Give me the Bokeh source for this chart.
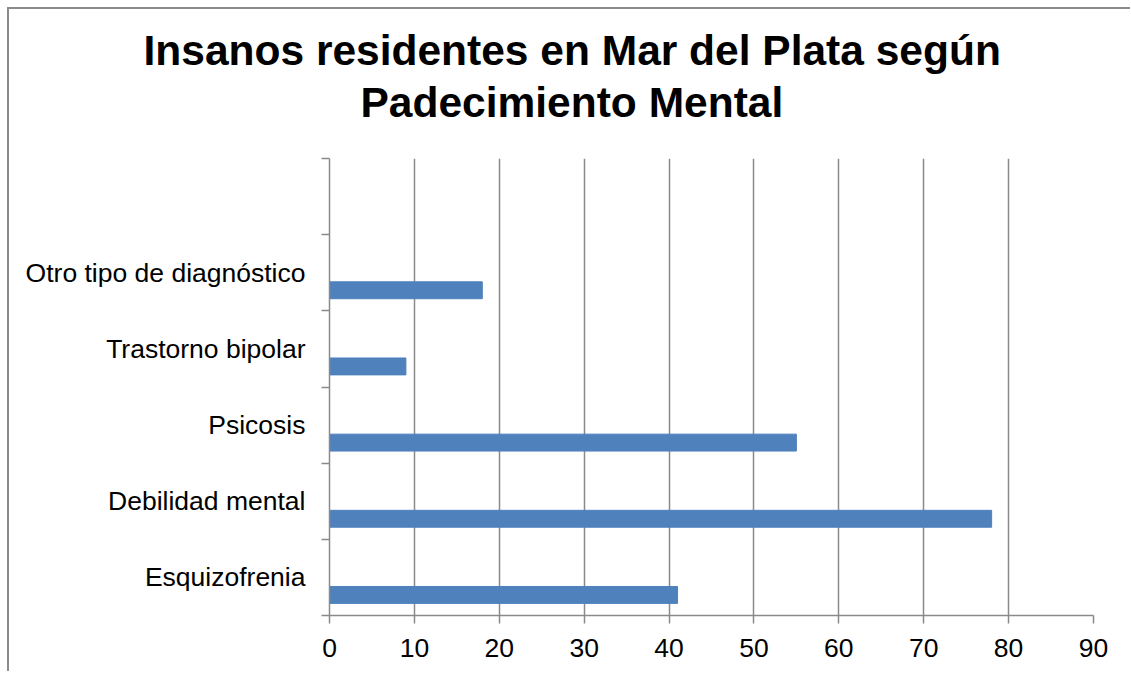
from bokeh.plotting import figure
from bokeh.models import Range1d, FixedTicker, ColumnDataSource, Title
from bokeh.embed import file_html
from bokeh.resources import INLINE

# ---- data ----
categories = ["Esquizofrenia", "Debilidad mental", "Psicosis",
              "Trastorno bipolar", "Otro tipo de diagnóstico", ""]
values = [41, 78, 55, 9, 18]
x_ticks = [0, 10, 20, 30, 40, 50, 60, 70, 80, 90]
title_lines = ["Insanos residentes en Mar del Plata según", "Padecimiento Mental"]

# ---- style ----
BAR = "#4F81BD"
GRID = "#8A8A8A"
FONT = "Liberation Sans"
bar_offset = 0.27     # first-series position inside each category slot
bar_height = 0.222

n_slots = len(categories)
src = ColumnDataSource(dict(
    y=[i + bar_offset for i in range(len(values))],
    right=values,
    cat=categories[:len(values)],
))

p = figure(
    x_range=Range1d(x_ticks[0], x_ticks[-1]),
    y_range=Range1d(0, n_slots),
    frame_width=764, frame_height=457,
    min_border_left=320, min_border_right=37,
    min_border_top=149, min_border_bottom=56,
    output_backend="svg", toolbar_location=None,
)
p.margin = (7, 0, 0, 7)

p.hbar(y="y", left=0, right="right", height=bar_height, source=src,
       fill_color=BAR, line_color=BAR, line_width=1)

# title: one Title per line (first added sits closest to the frame),
# left aligned with pixel offsets to mimic centring; a blank spacer first
p.title.visible = False
p.add_layout(Title(text=" ", text_font_size="1px", standoff=29), "above")
for line, off, so in reversed(list(zip(title_lines, [-186, 31], [3, 2]))):
    p.add_layout(Title(text=line, align="left", offset=off, standoff=so,
                       text_font=FONT, text_font_size="42.5px",
                       text_font_style="bold", text_color="black"), "above")

# x axis
p.xaxis.ticker = FixedTicker(ticks=x_ticks)
p.xaxis.axis_line_color = GRID
p.xaxis.axis_line_width = 1.5
p.xaxis.major_tick_line_color = GRID
p.xaxis.major_tick_line_width = 1.5
p.xaxis.major_tick_out = 8
p.xaxis.major_tick_in = 0
p.xaxis.minor_tick_line_color = None
p.xaxis.major_label_text_font = FONT
p.xaxis.major_label_text_font_size = "26.5px"
p.xaxis.major_label_text_color = "black"
p.xaxis.major_label_standoff = 15

# y axis: labels at slot centres, tick marks at slot boundaries
p.yaxis.ticker = FixedTicker(ticks=[i + 0.5 for i in range(n_slots)],
                             minor_ticks=list(range(n_slots + 1)))
p.yaxis.major_label_overrides = {i + 0.5: c for i, c in enumerate(categories)}
p.yaxis.axis_line_color = GRID
p.yaxis.axis_line_width = 1.5
p.yaxis.major_tick_line_color = None
p.yaxis.major_tick_out = 0
p.yaxis.major_tick_in = 0
p.yaxis.minor_tick_line_color = GRID
p.yaxis.minor_tick_line_width = 1.5
p.yaxis.minor_tick_out = 8
p.yaxis.minor_tick_in = 0
p.yaxis.major_label_text_font = FONT
p.yaxis.major_label_text_font_size = "26.5px"
p.yaxis.major_label_text_color = "black"
p.yaxis.major_label_standoff = 16

# grid
p.xgrid.ticker = FixedTicker(ticks=x_ticks)
p.xgrid.grid_line_color = GRID
p.xgrid.grid_line_width = 1.5
p.ygrid.visible = False
p.outline_line_color = None
p.background_fill_color = "white"
p.border_fill_color = "white"

p.styles = {"border-left": "2px solid #8A8A8A", "border-top": "2px solid #8A8A8A"}

open("out.html", "w").write(file_html(p, INLINE))
